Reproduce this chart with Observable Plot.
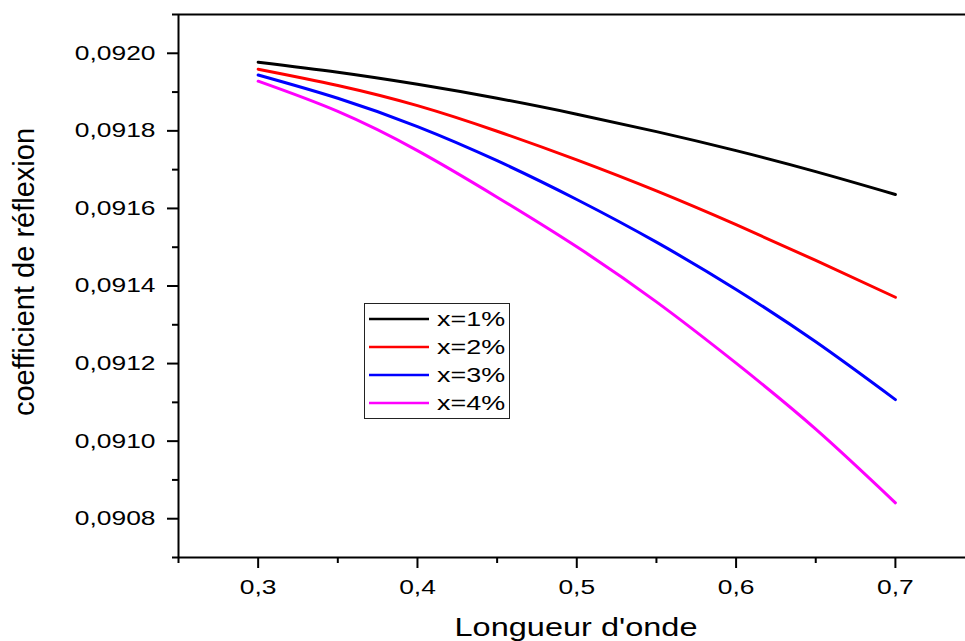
<!DOCTYPE html>
<html>
<head>
<meta charset="utf-8">
<script src="https://cdn.jsdelivr.net/npm/d3@7"></script>
<script src="https://cdn.jsdelivr.net/npm/@observablehq/plot@0.6"></script>
<style>
  html, body { margin: 0; padding: 0; background: #fff; overflow: hidden; }
  #wrap { position: relative; width: 965px; height: 641px; font-family: "Liberation Sans", Arial, sans-serif; }
  #legend { position: absolute; left: 364px; top: 303px; }
</style>
</head>
<body>
<div id="wrap"></div>
<script>
// ---- data ----
const wavelengths = [0.30, 0.35, 0.40, 0.45, 0.50, 0.55, 0.60, 0.65, 0.70];
const seriesNames = ["x=1%", "x=2%", "x=3%", "x=4%"];
const seriesColors = ["#000000", "#ff0000", "#0000ff", "#ff00ff"];
const refl1 = [0.091977, 0.091951, 0.091920, 0.091884, 0.091843, 0.091798, 0.091749, 0.091695, 0.091636];
const refl2 = [0.091959, 0.091917, 0.091865, 0.091799, 0.091725, 0.091645, 0.091558, 0.091466, 0.091371];
const refl3 = [0.091944, 0.091884, 0.091811, 0.091723, 0.091623, 0.091513, 0.091391, 0.091256, 0.091107];
const refl4 = [0.091928, 0.091850, 0.091749, 0.091629, 0.091501, 0.091359, 0.091201, 0.091031, 0.090841];
const xMajorTicks = [0.3, 0.4, 0.5, 0.6, 0.7];
const xMinorTicks = [0.25, 0.35, 0.45, 0.55, 0.65];
const yMajorTicks = [0.0908, 0.0910, 0.0912, 0.0914, 0.0916, 0.0918, 0.0920];
const yMinorTicks = [0.0907, 0.0909, 0.0911, 0.0913, 0.0915, 0.0917, 0.0919, 0.0921];
const xDomain = [0.25, 0.744];
const yDomain = [0.0907, 0.0921];
const xLabel = "Longueur d'onde";
const yLabel = "coefficient de réflexion";

const allSeries = [refl1, refl2, refl3, refl4];
const rows = [];
allSeries.forEach((vals, i) => {
  vals.forEach((v, j) => rows.push({wl: wavelengths[j], r: v, s: seriesNames[i]}));
});

const comma = (f) => (d) => f(d).replace(".", ",");
const fmtY = comma(d3.format(".4f"));
const fmtX = comma(d3.format(".1f"));

const plot = Plot.plot({
  width: 965,
  height: 641,
  marginLeft: 178,
  marginRight: 0,
  marginTop: 14,
  marginBottom: 84,
  style: {fontFamily: "'Liberation Sans', Arial, sans-serif", background: "white", color: "black", overflow: "visible"},
  x: {domain: xDomain},
  y: {domain: yDomain},
  color: {domain: seriesNames, range: seriesColors},
  marks: [
    Plot.ruleY([yDomain[1]], {stroke: "black", strokeWidth: 2}),
    Plot.ruleX([xDomain[0]], {stroke: "black", strokeWidth: 2}),
    Plot.ruleY([yDomain[0]], {stroke: "black", strokeWidth: 2}),
    Plot.axisY(yMajorTicks, {tickSize: 11, tickPadding: 12, strokeWidth: 2, fontSize: 20, tickFormat: fmtY, label: null}),
    Plot.axisY(yMinorTicks, {tickSize: 6, strokeWidth: 2, tickFormat: () => "", label: null}),
    Plot.axisX(xMajorTicks, {tickSize: 11, tickPadding: 11, strokeWidth: 2, fontSize: 20, tickFormat: fmtX, label: null}),
    Plot.axisX(xMinorTicks, {tickSize: 6, strokeWidth: 2, tickFormat: () => "", label: null}),
    Plot.line(rows, {x: "wl", y: "r", z: "s", stroke: "s", strokeWidth: 3, curve: "natural"}),
    Plot.text([xLabel], {frameAnchor: "bottom", lineAnchor: "bottom", textAnchor: "middle", dy: 78, dx: 4, fontSize: 25, fill: "black"}),
    Plot.text([yLabel], {frameAnchor: "left", rotate: -90, lineAnchor: "top", textAnchor: "middle", dx: -165, dy: -14, fontSize: 29, fill: "black"})
  ]
});

const wrap = document.getElementById("wrap");
wrap.appendChild(plot);

// ---- legend ----
const lg = d3.select(wrap).append("svg")
  .attr("id", "legend").attr("width", 147).attr("height", 117)
  .style("font-family", "'Liberation Sans', Arial, sans-serif");
lg.append("rect").attr("x", 0.5).attr("y", 0.5).attr("width", 145).attr("height", 115)
  .attr("fill", "white").attr("stroke", "#222").attr("stroke-width", 1);
seriesNames.forEach((name, i) => {
  const cy = 16 + i * 28;
  lg.append("line").attr("x1", 5).attr("x2", 65).attr("y1", cy).attr("y2", cy)
    .attr("stroke", seriesColors[i]).attr("stroke-width", 2.7);
  lg.append("text").attr("class", "lgtxt").attr("x", 73).attr("y", cy).attr("dy", "0.36em")
    .attr("font-size", 19.5).attr("fill", "black").text(name);
});

// widen glyphs like the reference (wide-set text)
function stretchEl(t, k) {
  const L = t.getComputedTextLength();
  if (L > 0) {
    t.setAttribute("textLength", (L * k).toFixed(1));
    t.setAttribute("lengthAdjust", "spacingAndGlyphs");
  }
}
const yTickSet = new Set(yMajorTicks.map(fmtY));
const xTickSet = new Set(xMajorTicks.map(fmtX));
plot.querySelectorAll("text").forEach(t => {
  const s = t.textContent;
  if (yTickSet.has(s) || xTickSet.has(s)) stretchEl(t, 1.32);
  else if (s === xLabel) stretchEl(t, 1.3);
});
document.querySelectorAll(".lgtxt").forEach(t => stretchEl(t, 1.38));
</script>
</body>
</html>
